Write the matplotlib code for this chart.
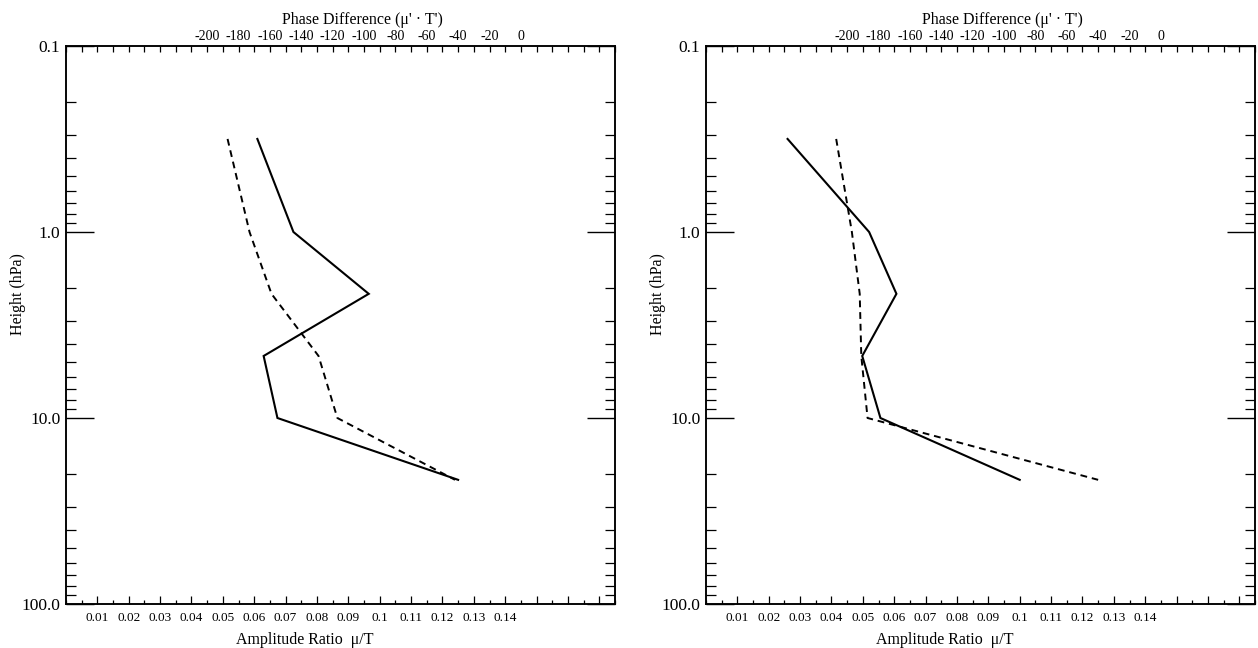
import numpy as np
import matplotlib
matplotlib.use('Agg')  # no display required
import matplotlib.pyplot as plt
from matplotlib.ticker import FixedLocator, FixedFormatter, MultipleLocator, LogLocator, NullFormatter

# pressure levels (hPa) where the profiles are given
LEVELS = [0.316, 1.0, 2.15, 4.64, 10.0, 21.5]

# left panel
LEFT_AMP = [0.061, 0.0725, 0.0965, 0.063, 0.0674, 0.125]
LEFT_PHASE = [-187, -173, -159, -129, -117, -42]
# right panel
RIGHT_AMP = [0.026, 0.052, 0.0607, 0.0498, 0.0556, 0.100]
RIGHT_PHASE = [-207, -197, -192, -191, -187, -40]

AMP_TICKS = [0.01, 0.02, 0.03, 0.04, 0.05, 0.06, 0.07, 0.08, 0.09, 0.10,
             0.11, 0.12, 0.13, 0.14, 0.15, 0.16, 0.17]
AMP_LABELS = ['0.01', '0.02', '0.03', '0.04', '0.05', '0.06', '0.07', '0.08',
              '0.09', '0.1', '0.11', '0.12', '0.13', '0.14', '', '', '']
PHASE_TICKS = [-200, -180, -160, -140, -120, -100, -80, -60, -40, -20, 0]
PHASE_LABELS = ['-200', '-180', '-160', '-140', '-120', '-100', '-80', '-60', '-40', '-20', '0']
HEIGHT_TICKS = [0.1, 1.0, 10.0, 100.0]
HEIGHT_LABELS = ['0.1', '1.0', '10.0', '100.0']

AMP_LIM = (0.0, 0.175)
# phase axis is offset against the amplitude axis: 0 deg sits at 0.145, 20 deg per 0.01
PHASE_LIM = (-290, 60)

plt.rcParams['font.family'] = ['Liberation Serif', 'DejaVu Serif']
plt.rcParams['axes.linewidth'] = 1.1


def draw_panel(fig, rect, amp, phase):
    ax = fig.add_axes(rect)
    ax.set_yscale('log')
    ax.set_ylim(100.0, 0.1)
    ax.set_xlim(*AMP_LIM)

    ax.plot(amp, LEVELS, color='black', lw=1.5, solid_joinstyle='miter')

    # y axis
    ax.yaxis.set_major_locator(FixedLocator(HEIGHT_TICKS))
    ax.yaxis.set_major_formatter(FixedFormatter(HEIGHT_LABELS))
    ax.yaxis.set_minor_locator(LogLocator(base=10, subs=np.arange(2, 10)))
    ax.yaxis.set_minor_formatter(NullFormatter())
    ax.tick_params(axis='y', which='major', direction='in', length=20, width=1.0,
                   left=True, right=True, labelsize=12.5, pad=4)
    ax.tick_params(axis='y', which='minor', direction='in', length=7, width=0.9,
                   left=True, right=True)
    ax.set_ylabel('Height (hPa)', fontsize=11.5)
    ax.yaxis.set_label_coords(-0.072, 0.555)

    # bottom amplitude axis
    ax.xaxis.set_major_locator(FixedLocator(AMP_TICKS))
    ax.xaxis.set_major_formatter(FixedFormatter(AMP_LABELS))
    ax.xaxis.set_minor_locator(MultipleLocator(0.005))
    ax.tick_params(axis='x', which='major', direction='in', length=6, width=0.9,
                   labelsize=9.5, pad=6, top=False)
    ax.tick_params(axis='x', which='minor', direction='in', length=3, width=0.9, top=False)
    ax.set_xlabel('Amplitude Ratio  μ/T', fontsize=11.5)
    ax.xaxis.set_label_coords(0.435, -0.05)

    # top phase axis
    ax2 = ax.twiny()
    ax2.set_xlim(*PHASE_LIM)
    ax2.plot(phase, LEVELS, color='black', lw=1.4, ls=(0, (3.5, 2.5)))
    ax2.xaxis.set_major_locator(FixedLocator(PHASE_TICKS))
    ax2.xaxis.set_major_formatter(FixedFormatter(PHASE_LABELS))
    ax2.xaxis.set_minor_locator(MultipleLocator(10))
    ax2.tick_params(axis='x', which='both', direction='in', length=4, width=0.9,
                    labelsize=10, pad=2)
    ax2.set_xlabel("Phase Difference (μ' · T')", fontsize=11.5)
    ax2.xaxis.set_label_coords(0.54, 1.04)
    return ax, ax2


fig = plt.figure(figsize=(12.58, 6.48), dpi=100)
fig.patch.set_facecolor('white')

w = 549 / 1258
h = 558 / 648
b = 44 / 648
draw_panel(fig, [66 / 1258, b, w, h], LEFT_AMP, LEFT_PHASE)
draw_panel(fig, [706 / 1258, b, w, h], RIGHT_AMP, RIGHT_PHASE)

fig.savefig('out.png', dpi=100)
